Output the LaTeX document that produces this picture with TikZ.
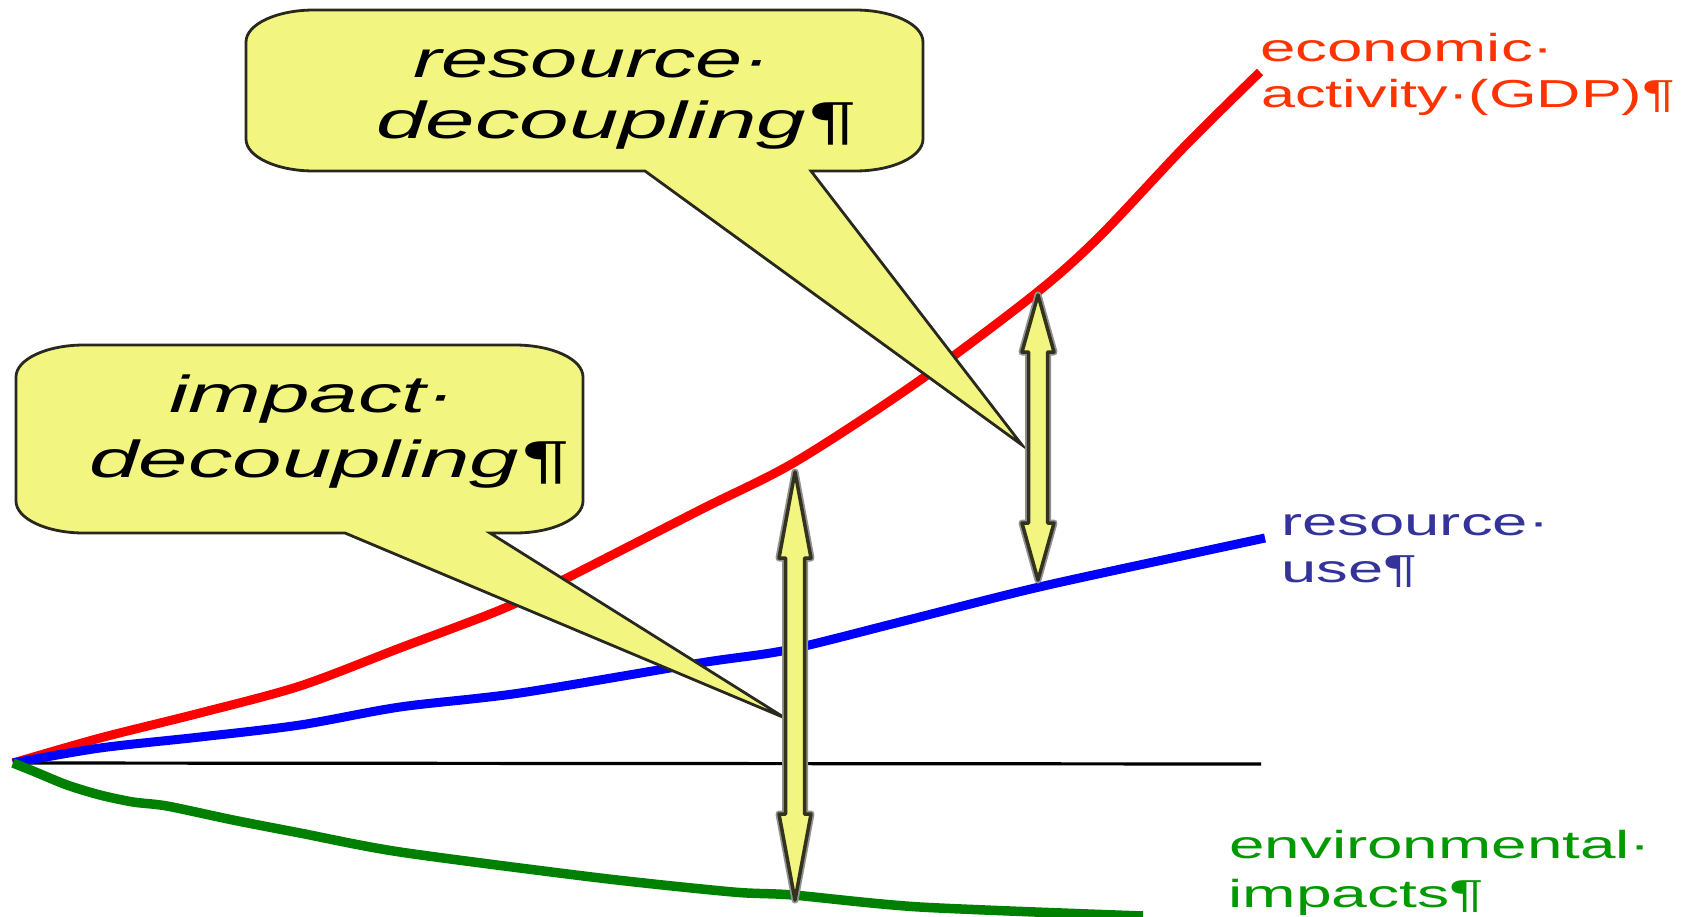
\documentclass[tikz,border=0pt]{standalone}
\usepackage{fontspec}
\setmainfont{Liberation Sans}
\usetikzlibrary{calc}

\definecolor{gdpline}{RGB}{255,0,0}
\definecolor{resline}{RGB}{0,0,255}
\definecolor{envline}{RGB}{0,128,0}
\definecolor{gdptext}{RGB}{255,51,0}
\definecolor{restext}{RGB}{51,51,153}
\definecolor{envtext}{RGB}{0,153,0}
\definecolor{callfill}{RGB}{242,246,128}
\definecolor{calledge}{RGB}{40,40,30}
\definecolor{arrowedge}{RGB}{50,50,30}

% stretch a line of text to a given width, keeping its height
\newcommand{\widetext}[2]{\resizebox{#1}{\height}{#2}}

% fat yellow double-headed arrow between two named points
\newcommand{\fatupdown}[3]{%
  \path[arrowbody] (#1) -- ($(#1)+(16,#3)$) -- ($(#1)+(9.5,#3)$)
    -- ($(#2)+(9.5,-#3)$) -- ($(#2)+(16,-#3)$) -- (#2)
    -- ($(#2)+(-16,-#3)$) -- ($(#2)+(-9.5,-#3)$)
    -- ($(#1)+(-9.5,#3)$) -- ($(#1)+(-16,#3)$) -- cycle;}

\begin{document}
\begin{tikzpicture}[x=1pt,y=-1pt,
  curve/.style={line width=9pt, line join=round},
  axisline/.style={line width=3.2pt, black},
  callout/.style={fill=callfill, draw=calledge, line width=2.8pt, line join=miter},
  calltext/.style={inner sep=0pt, anchor=base west, font=\fontsize{52}{60}\selectfont\itshape},
  labeltext/.style={inner sep=0pt, anchor=base west, font=\fontsize{39}{46}\selectfont},
  arrowbody/.style={fill=callfill, draw=arrowedge, line width=3.5pt, line join=round,
    preaction={draw=gray!85, line width=7pt, line join=round}}]

\useasboundingbox (0,0) rectangle (1690,916);

% common origin and the zero line
\coordinate (origin) at (13,763);
\coordinate (axisend) at (1261,764);
\draw[axisline] (origin) -- (axisend);

% economic activity (GDP)
\draw[curve, gdpline] plot[smooth, tension=0.5] coordinates {
  (13,763) (100,738) (200,713) (300,686) (400,648) (500,610) (563,580)
  (700,510) (795,462) (916,383) (1035,294) (1099,237) (1186,145) (1260,72)};

% resource use
\draw[curve, resline] plot[smooth, tension=0.5] coordinates {
  (13,763) (100,748) (200,737) (300,725) (400,707) (520,693) (700,663)
  (787,650) (900,622) (1035,588) (1186,555) (1265,538)};

% environmental impacts
\draw[curve, envline, line width=9.5pt] plot[smooth, tension=0.45] coordinates {
  (13,763) (33,771) (67,785) (100,795) (133,802) (167,806) (233,820)
  (300,833) (400,852) (600,878) (733,892) (793,895) (920,907) (1143,916)};

% speech bubble: resource decoupling
\path[callout] (314,10) -- (855,10) .. controls (892.5,10) and (923,24.3) .. (923,42)
  -- (923,139) .. controls (923,156.7) and (892.5,171) .. (855,171)
  -- (811,171) -- (1022,445) -- (645,171)
  -- (314,171) .. controls (276.5,171) and (246,156.7) .. (246,139)
  -- (246,42) .. controls (246,24.3) and (276.5,10) .. (314,10) -- cycle;
\node[calltext] (rd1) at (413,77) {\widetext{358pt}{resource·}};
\node[calltext] (rd2) at (376,138) {\widetext{478pt}{decoupling¶}};

% speech bubble: impact decoupling
\path[callout] (84,345) -- (515,345) .. controls (552.5,345) and (583,359.3) .. (583,377)
  -- (583,501) .. controls (583,518.7) and (552.5,533) .. (515,533)
  -- (490,533) -- (785,718) -- (345,533)
  -- (84,533) .. controls (46.5,533) and (16,518.7) .. (16,501)
  -- (16,377) .. controls (16,359.3) and (46.5,345) .. (84,345) -- cycle;
\node[calltext] (id1) at (169,412) {\widetext{286pt}{impact·}};
\node[calltext] (id2) at (89,477) {\widetext{478pt}{decoupling¶}};

% gaps between the curves
\coordinate (gapAtop) at (795,472);
\coordinate (gapAbot) at (795,900);
\coordinate (gapBtop) at (1038,295);
\coordinate (gapBbot) at (1038,580);
\fatupdown{gapAtop}{gapAbot}{86}
\fatupdown{gapBtop}{gapBbot}{57}

% curve labels
\node[labeltext, text=gdptext] (gdp1) at (1260,61) {\widetext{294pt}{economic·}};
\node[labeltext, text=gdptext] (gdp2) at (1261,107) {\widetext{414pt}{activity·(GDP)¶}};
\node[labeltext, text=restext] (res1) at (1281,535) {\widetext{268pt}{resource·}};
\node[labeltext, text=restext] (res2) at (1281,582) {\widetext{136pt}{use¶}};
\node[labeltext, text=envtext] (env1) at (1229,858) {\widetext{422pt}{environmental·}};
\node[labeltext, text=envtext] (env2) at (1228,907) {\widetext{256pt}{impacts¶}};

\end{tikzpicture}
\end{document}
